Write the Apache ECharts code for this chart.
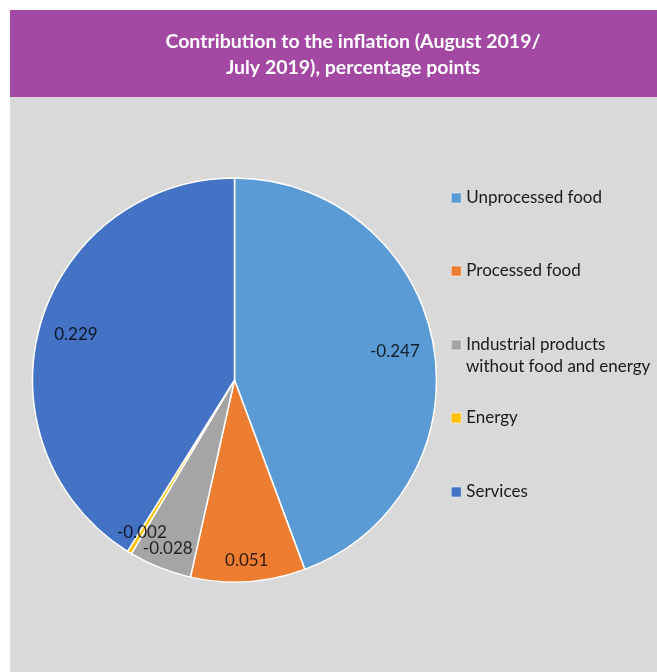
<!DOCTYPE html>
<html>
<head>
<meta charset="utf-8">
<script src="https://cdn.jsdelivr.net/npm/echarts@6/dist/echarts.min.js"></script>
<style>
  html, body { margin: 0; padding: 0; background: #fff; }
  #chart { width: 657px; height: 672px; }
</style>
</head>
<body>
<div id="chart"></div>
<script>
// 通胀贡献数据 (percentage points)
var categories = ['Unprocessed food', 'Processed food', 'Industrial products without food and energy', 'Energy', 'Services']
var legendLines = [['Unprocessed food'], ['Processed food'], ['Industrial products', 'without food and energy'], ['Energy'], ['Services']]
var values = [-0.247, 0.051, -0.028, -0.002, 0.229]
var colors = ['#5B9BD5', '#ED7D31', '#A5A5A5', '#FFC000', '#4472C4']
// 标签离圆心的距离（像素）
var labelRadius = [163, 181, 181, 178, 165]

var chart = echarts.init(document.getElementById('chart'))
var font = 'Lato, "Open Sans", sans-serif'
var cx = 234.5
var cy = 380
var R = 202

var total = 0
values.forEach(function (v) { total += Math.abs(v) })

// 标签用极坐标散点放，避免小扇区标签被隐藏
var labelPoints = []
var acc = 0
values.forEach(function (v, i) {
  labelPoints.push({ value: [labelRadius[i], acc + Math.abs(v) / 2], raw: v })
  acc += Math.abs(v)
})

// 每个图例单独放，间距跟原图一样
var legendTops = [198, 271, 345, 418, 492]
var legends = categories.map(function (c, i) {
  return {
    data: [c],
    left: 451,
    top: legendTops[i] - 11,
    padding: 0,
    icon: 'rect',
    itemWidth: 10,
    itemHeight: 10,
    itemGap: 5,
    itemStyle: { borderColor: '#fff', borderWidth: 0.5 },
    formatter: function () { return legendLines[i][0] },
    textStyle: {
      fontFamily: font,
      fontSize: 17,
      color: '#1a1a1a',
      lineHeight: 22
    },
    selectedMode: false
  }
})

// 图例第二行文字
var extraLegendText = []
legendLines.forEach(function (lines, i) {
  for (var k = 1; k < lines.length; k++) {
    extraLegendText.push({
      type: 'text',
      z: 10,
      style: {
        x: 466,
        y: legendTops[i] + 22 * k,
        text: lines[k],
        fill: '#1a1a1a',
        font: '17px ' + font,
        verticalAlign: 'middle'
      }
    })
  }
})

chart.setOption({
  backgroundColor: '#fff',
  animation: false,
  graphic: [
    { type: 'rect', z: -10, shape: { x: 10, y: 97, width: 700, height: 600 }, style: { fill: '#D9D9D9' } },
    { type: 'rect', z: -10, shape: { x: 10, y: 10, width: 700, height: 87 }, style: { fill: '#A349A4' } },
    {
      type: 'text',
      z: 10,
      style: {
        x: 353,
        y: 55,
        text: 'Contribution to the inflation (August 2019/\nJuly 2019), percentage points',
        fill: '#fff',
        font: 'bold 19.5px ' + font,
        lineHeight: 26,
        align: 'center',
        verticalAlign: 'middle'
      }
    }
  ].concat(extraLegendText),
  legend: legends,
  polar: { center: [cx, cy], radius: R },
  angleAxis: { type: 'value', min: 0, max: total, startAngle: 90, clockwise: true, show: false },
  radiusAxis: { type: 'value', min: 0, max: R, show: false },
  series: [
    {
      type: 'pie',
      center: [cx, cy],
      radius: [0, R],
      startAngle: 90,
      silent: true,
      label: { show: false },
      labelLine: { show: false },
      itemStyle: { borderColor: '#fff', borderWidth: 1.5 },
      data: categories.map(function (c, i) {
        return { name: c, value: Math.abs(values[i]), itemStyle: { color: colors[i] } }
      })
    },
    {
      type: 'scatter',
      coordinateSystem: 'polar',
      silent: true,
      z: 5,
      symbolSize: 1,
      itemStyle: { color: 'rgba(0,0,0,0)' },
      label: {
        show: true,
        position: 'inside',
        formatter: function (p) { return String(p.data.raw) },
        fontFamily: font,
        fontSize: 17,
        color: '#000'
      },
      data: labelPoints
    }
  ]
})
</script>
</body>
</html>
